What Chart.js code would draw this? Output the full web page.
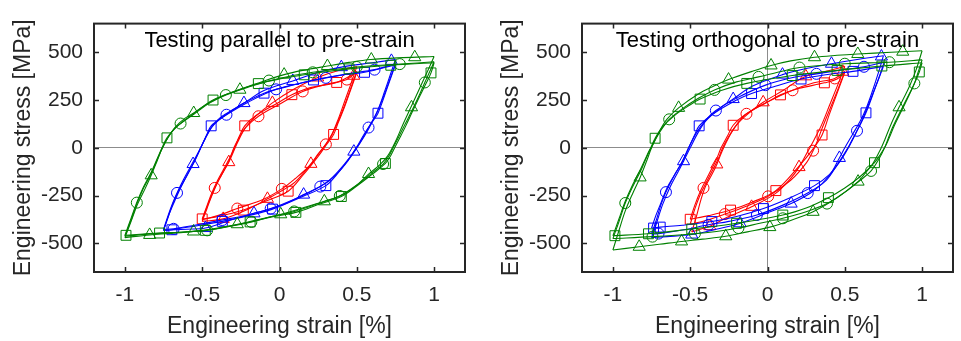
<!DOCTYPE html>
<html><head><meta charset="utf-8">
<script src="https://cdn.jsdelivr.net/npm/chart.js@4.4.1/dist/chart.umd.min.js"></script>
<style>
html,body{margin:0;padding:0;background:#fff;}
#wrap{position:relative;width:961px;height:341px;overflow:hidden;}
.p{position:absolute;top:0;height:341px;}
</style></head>
<body>
<div id="wrap">
<div class="p" style="left:0;width:480px"><canvas id="c1" width="480" height="341"></canvas></div>
<div class="p" style="left:480px;width:481px"><canvas id="c2" width="481" height="341"></canvas></div>
</div>
<script>
// ---------- tick labels ----------
const strainTicks = [-1, -0.5, 0, 0.5, 1];
const stressTicks = [-500, -250, 0, 250, 500];
const titles = ['Testing parallel to pre-strain', 'Testing orthogonal to pre-strain'];
const xTitle = 'Engineering strain [%]';
const yTitle = 'Engineering stress [MPa]';

// ---------- LEFT: parallel (strain %, stress MPa) ----------
// green +-1 %
const par_g_tri_up = [[-1,-470],[-0.96,-385],[-0.92,-298],[-0.87,-215],[-0.83,-144],[-0.79,-65],[-0.76,-5],[-0.72,55],[-0.67,112],[-0.61,155],[-0.55,185],[-0.45,238],[-0.35,278],[-0.26,305],[-0.1,350],[0.03,383],[0.15,405],[0.31,428],[0.45,447],[0.59,462],[0.8,472],[1,478]];
const par_g_tri_dn = [[-1,-470],[-0.84,-456],[-0.7,-448],[-0.56,-438],[-0.4,-420],[-0.27,-400],[-0.15,-378],[0.01,-348],[0.15,-315],[0.29,-280],[0.4,-248],[0.5,-195],[0.58,-135],[0.65,-88],[0.7,-42],[0.73,0],[0.76,50],[0.8,125],[0.85,212],[0.88,265],[0.92,335],[0.96,405],[1,478]];
const par_g_tri_mk = [[-0.83,-144],[-0.555,182],[-0.256,304],[0.03,383],[0.31,428],[0.594,462],[0.875,474],[0.854,212],[0.576,-137],[0.29,-280],[0.008,-348],[-0.273,-400],[-0.556,-438],[-0.84,-456]];
const par_g_cir_up = [[-1,-462],[-0.96,-378],[-0.92,-287],[-0.88,-212],[-0.83,-135],[-0.79,-60],[-0.757,0],[-0.72,55],[-0.68,100],[-0.64,127],[-0.55,178],[-0.45,235],[-0.35,275],[-0.2,318],[-0.07,350],[0.05,372],[0.215,395],[0.35,410],[0.5,423],[0.78,438],[1,450]];
const par_g_cir_dn = [[-1,-462],[-0.85,-452],[-0.7,-444],[-0.47,-432],[-0.35,-416],[-0.18,-388],[-0.05,-360],[0.095,-333],[0.25,-292],[0.39,-252],[0.5,-195],[0.6,-130],[0.67,-85],[0.71,-40],[0.735,0],[0.77,55],[0.81,120],[0.86,200],[0.9,268],[0.94,342],[0.97,395],[1,450]];
const par_g_cir_mk = [[-0.923,-287],[-0.64,127],[-0.347,276],[-0.068,352],[0.215,395],[0.5,423],[0.778,438],[0.94,342],[0.67,-85],[0.39,-252],[0.095,-333],[-0.182,-388],[-0.468,-432]];
const par_g_sq_up = [[-1,-458],[-0.96,-368],[-0.92,-280],[-0.88,-205],[-0.83,-128],[-0.79,-55],[-0.76,0],[-0.73,50],[-0.68,98],[-0.62,140],[-0.55,183],[-0.43,250],[-0.3,292],[-0.14,335],[0,360],[0.16,382],[0.3,398],[0.45,413],[0.72,432],[1,445]];
const par_g_sq_dn = [[-1,-458],[-0.78,-446],[-0.65,-442],[-0.48,-432],[-0.35,-414],[-0.19,-388],[-0.05,-362],[0.105,-338],[0.25,-297],[0.4,-255],[0.5,-200],[0.6,-138],[0.685,-82],[0.72,-40],[0.745,0],[0.78,55],[0.82,120],[0.86,190],[0.9,258],[0.95,340],[0.98,392],[1,445]];
const par_g_sq_mk = [[-0.993,-458],[-0.728,52],[-0.43,250],[-0.137,336],[0.16,382],[0.45,413],[0.72,432],[0.98,392],[0.685,-82],[0.4,-255],[0.106,-338],[-0.19,-388],[-0.48,-432],[-0.776,-446]];
// blue +-0.75 %
const par_b_tri_up = [[-0.75,-432],[-0.72,-362],[-0.69,-292],[-0.65,-220],[-0.6,-148],[-0.56,-85],[-0.52,-20],[-0.48,50],[-0.44,108],[-0.38,160],[-0.3,200],[-0.23,234],[-0.1,300],[0.086,350],[0.25,395],[0.4,422],[0.6,445],[0.75,462]];
const par_b_tri_dn = [[-0.75,-432],[-0.6,-426],[-0.48,-420],[-0.33,-382],[-0.165,-343],[0,-305],[0.156,-245],[0.3,-185],[0.36,-140],[0.42,-85],[0.48,-24],[0.55,62],[0.6,135],[0.64,205],[0.68,295],[0.72,390],[0.75,462]];
const par_b_tri_mk = [[-0.559,-85],[-0.23,234],[0.086,350],[0.4,422],[0.724,455],[0.481,-20],[0.156,-245],[-0.165,-343],[-0.479,-420]];
const par_b_cir_up = [[-0.75,-427],[-0.72,-352],[-0.69,-287],[-0.663,-236],[-0.62,-165],[-0.58,-105],[-0.52,-15],[-0.48,48],[-0.44,105],[-0.4,140],[-0.343,173],[-0.2,240],[-0.022,306],[0.15,340],[0.3,366],[0.45,388],[0.615,409],[0.75,440]];
const par_b_cir_dn = [[-0.75,-427],[-0.685,-424],[-0.55,-405],[-0.37,-378],[-0.2,-350],[-0.057,-318],[0.1,-268],[0.264,-203],[0.36,-145],[0.43,-82],[0.49,-12],[0.53,40],[0.576,106],[0.63,185],[0.67,262],[0.71,350],[0.75,440]];
const par_b_cir_mk = [[-0.663,-236],[-0.343,173],[-0.022,306],[0.3,366],[0.615,409],[0.576,106],[0.264,-203],[-0.057,-318],[-0.37,-378],[-0.685,-424]];
const par_b_sq_up = [[-0.75,-432],[-0.72,-360],[-0.68,-282],[-0.64,-210],[-0.59,-130],[-0.55,-72],[-0.51,0],[-0.47,70],[-0.442,115],[-0.36,165],[-0.25,225],[-0.1,286],[0.05,320],[0.22,355],[0.4,380],[0.55,395],[0.75,435]];
const par_b_sq_dn = [[-0.75,-432],[-0.696,-429],[-0.55,-410],[-0.37,-385],[-0.2,-355],[-0.045,-321],[0.15,-255],[0.3,-198],[0.37,-140],[0.44,-68],[0.5,5],[0.55,75],[0.6,135],[0.637,181],[0.7,320],[0.75,435]];
const par_b_sq_mk = [[-0.442,115],[-0.1,286],[0.22,355],[0.55,395],[0.637,181],[0.3,-198],[-0.045,-321],[-0.37,-385],[-0.696,-429]];
// red +-0.5 %
const par_r_tri_up = [[-0.5,-385],[-0.47,-320],[-0.44,-255],[-0.4,-180],[-0.36,-120],[-0.328,-75],[-0.3,-25],[-0.27,30],[-0.22,105],[-0.15,168],[-0.046,235],[0.1,310],[0.247,368],[0.4,408],[0.5,425]];
const par_r_tri_dn = [[-0.5,-385],[-0.364,-372],[-0.2,-320],[-0.078,-267],[0,-232],[0.1,-180],[0.203,-84],[0.25,-32],[0.3,20],[0.34,72],[0.38,150],[0.42,240],[0.46,330],[0.5,425]];
const par_r_tri_mk = [[-0.328,-75],[-0.046,235],[0.247,368],[0.48,377],[0.203,-84],[-0.078,-267],[-0.364,-372]];
const par_r_cir_up = [[-0.5,-377],[-0.47,-312],[-0.44,-250],[-0.419,-210],[-0.38,-150],[-0.33,-75],[-0.295,0],[-0.26,55],[-0.22,105],[-0.136,165],[0,228],[0.15,295],[0.3,332],[0.436,357],[0.5,400]];
const par_r_cir_dn = [[-0.5,-377],[-0.4,-355],[-0.273,-318],[-0.1,-268],[0.015,-215],[0.1,-162],[0.2,-90],[0.25,-35],[0.3,18],[0.34,70],[0.38,140],[0.42,220],[0.46,310],[0.5,400]];
const par_r_cir_mk = [[-0.419,-210],[-0.136,165],[0.15,295],[0.436,357],[0.3,18],[0.015,-215],[-0.273,-318]];
const par_r_sq_up = [[-0.5,-372],[-0.47,-305],[-0.44,-240],[-0.4,-170],[-0.36,-110],[-0.32,-50],[-0.29,0],[-0.26,60],[-0.225,115],[-0.15,170],[0,240],[0.08,278],[0.2,315],[0.37,342],[0.5,395]];
const par_r_sq_dn = [[-0.5,-372],[-0.4,-360],[-0.234,-326],[-0.1,-282],[0.056,-227],[0.15,-145],[0.25,-45],[0.3,12],[0.35,70],[0.38,132],[0.42,212],[0.46,302],[0.5,395]];
const par_r_sq_mk = [[-0.5,-372],[-0.225,115],[0.08,278],[0.37,342],[0.35,70],[0.056,-227],[-0.234,-326]];

// ---------- RIGHT: orthogonal ----------
// green
const ort_g_tri_up = [[-1,-535],[-0.96,-430],[-0.92,-330],[-0.87,-235],[-0.824,-155],[-0.78,-65],[-0.75,0],[-0.7,85],[-0.65,150],[-0.575,209],[-0.45,280],[-0.35,322],[-0.252,357],[-0.1,400],[0.023,431],[0.15,455],[0.304,474],[0.45,484],[0.584,491],[0.8,500],[1,508]];
const ort_g_tri_dn = [[-1,-535],[-0.83,-518],[-0.7,-505],[-0.556,-490],[-0.42,-478],[-0.27,-463],[-0.13,-440],[0.015,-415],[0.15,-380],[0.295,-335],[0.45,-262],[0.586,-177],[0.63,-135],[0.68,-85],[0.73,-10],[0.76,45],[0.8,125],[0.851,212],[0.88,258],[0.92,325],[0.96,405],[1,508]];
const ort_g_tri_mk = [[-0.824,-155],[-0.575,209],[-0.252,357],[0.023,431],[0.304,474],[0.584,491],[0.875,503],[0.851,212],[0.586,-177],[0.295,-335],[0.015,-415],[-0.27,-463],[-0.556,-490],[-0.83,-518]];
const ort_g_cir_up = [[-1,-475],[-0.96,-385],[-0.92,-289],[-0.87,-200],[-0.82,-120],[-0.78,-45],[-0.75,5],[-0.71,65],[-0.67,115],[-0.636,149],[-0.55,205],[-0.45,258],[-0.343,303],[-0.2,345],[-0.058,371],[0.08,398],[0.207,420],[0.5,440],[0.789,448],[1,460]];
const ort_g_cir_dn = [[-1,-475],[-0.744,-465],[-0.47,-450],[-0.33,-438],[-0.188,-420],[-0.05,-395],[0.099,-369],[0.25,-335],[0.385,-292],[0.5,-232],[0.6,-170],[0.67,-121],[0.72,-60],[0.76,5],[0.8,90],[0.85,175],[0.9,255],[0.95,337],[0.97,385],[1,460]];
const ort_g_cir_mk = [[-0.92,-289],[-0.636,149],[-0.343,303],[-0.058,371],[0.207,420],[0.5,440],[0.789,448],[0.95,337],[0.67,-121],[0.385,-292],[0.099,-369],[-0.188,-420],[-0.47,-450],[-0.744,-465]];
const ort_g_sq_up = [[-1,-460],[-0.96,-370],[-0.92,-280],[-0.87,-190],[-0.82,-110],[-0.78,-40],[-0.75,10],[-0.727,50],[-0.68,108],[-0.6,170],[-0.5,225],[-0.436,255],[-0.3,300],[-0.134,337],[0.16,378],[0.45,405],[0.74,428],[1,445]];
const ort_g_sq_dn = [[-1,-460],[-0.77,-450],[-0.49,-425],[-0.35,-412],[-0.2,-395],[-0.05,-375],[0.099,-352],[0.25,-315],[0.394,-261],[0.5,-210],[0.6,-150],[0.692,-78],[0.73,-35],[0.77,20],[0.82,115],[0.88,215],[0.93,300],[0.982,397],[1,445]];
const ort_g_sq_mk = [[-0.987,-460],[-0.727,50],[-0.436,255],[-0.134,337],[0.16,378],[0.45,405],[0.74,428],[0.982,397],[0.692,-78],[0.394,-261],[0.099,-352],[-0.2,-395],[-0.49,-425],[-0.77,-450]];
// blue
const ort_b_tri_up = [[-0.75,-470],[-0.72,-400],[-0.68,-300],[-0.63,-205],[-0.58,-128],[-0.543,-70],[-0.5,0],[-0.45,78],[-0.4,140],[-0.3,212],[-0.222,255],[-0.1,322],[0.097,383],[0.25,415],[0.414,440],[0.6,465],[0.75,482]];
const ort_b_tri_dn = [[-0.75,-470],[-0.65,-465],[-0.49,-454],[-0.35,-430],[-0.177,-395],[0,-340],[0.153,-292],[0.3,-225],[0.4,-145],[0.465,-53],[0.5,0],[0.55,70],[0.6,140],[0.64,210],[0.68,300],[0.72,400],[0.75,482]];
const ort_b_tri_mk = [[-0.543,-70],[-0.222,255],[0.097,383],[0.414,440],[0.737,478],[0.465,-53],[0.153,-292],[-0.177,-395],[-0.49,-454]];
const ort_b_cir_up = [[-0.75,-452],[-0.72,-380],[-0.69,-300],[-0.657,-232],[-0.6,-140],[-0.55,-70],[-0.51,0],[-0.46,78],[-0.4,145],[-0.334,195],[-0.2,260],[-0.013,328],[0.15,365],[0.317,387],[0.5,410],[0.624,424],[0.755,448]];
const ort_b_cir_dn = [[-0.75,-452],[-0.705,-449],[-0.55,-430],[-0.381,-403],[-0.25,-385],[-0.069,-352],[0.1,-300],[0.26,-237],[0.38,-170],[0.45,-90],[0.52,0],[0.54,30],[0.579,89],[0.62,160],[0.68,280],[0.72,365],[0.755,448]];
const ort_b_cir_mk = [[-0.657,-232],[-0.334,195],[-0.013,328],[0.317,387],[0.624,424],[0.579,89],[0.26,-237],[-0.069,-352],[-0.381,-403],[-0.705,-449]];
const ort_b_sq_up = [[-0.75,-420],[-0.72,-350],[-0.69,-290],[-0.65,-210],[-0.6,-140],[-0.55,-70],[-0.51,0],[-0.47,70],[-0.442,115],[-0.35,178],[-0.2,250],[-0.103,284],[0.05,322],[0.217,360],[0.4,385],[0.553,400],[0.75,426]];
const ort_b_sq_dn = [[-0.75,-420],[-0.694,-415],[-0.55,-405],[-0.36,-386],[-0.2,-360],[-0.026,-318],[0.15,-260],[0.304,-198],[0.4,-140],[0.47,-70],[0.53,10],[0.58,90],[0.637,183],[0.7,320],[0.75,426]];
const ort_b_sq_mk = [[-0.737,-420],[-0.442,115],[-0.103,284],[0.217,360],[0.553,400],[0.637,183],[0.304,-198],[-0.026,-318],[-0.36,-386],[-0.694,-415]];
// red
const ort_r_tri_up = [[-0.49,-440],[-0.46,-360],[-0.43,-270],[-0.4,-200],[-0.36,-140],[-0.328,-87],[-0.3,-30],[-0.26,40],[-0.2,120],[-0.1,195],[-0.028,238],[0.1,300],[0.248,374],[0.4,405],[0.5,426]];
const ort_r_tri_dn = [[-0.49,-440],[-0.45,-430],[-0.373,-410],[-0.25,-360],[-0.103,-309],[0.05,-240],[0.15,-160],[0.204,-101],[0.26,-20],[0.3,40],[0.35,120],[0.4,220],[0.45,320],[0.5,426]];
const ort_r_tri_mk = [[-0.328,-87],[-0.028,238],[0.248,374],[0.487,398],[0.204,-101],[-0.103,-309],[-0.373,-410]];
const ort_r_cir_up = [[-0.5,-400],[-0.47,-320],[-0.44,-255],[-0.414,-210],[-0.37,-140],[-0.32,-60],[-0.29,0],[-0.25,60],[-0.2,120],[-0.136,178],[0,240],[0.162,301],[0.3,340],[0.435,363],[0.5,400]];
const ort_r_cir_dn = [[-0.5,-400],[-0.4,-380],[-0.276,-347],[-0.15,-310],[0.004,-254],[0.15,-170],[0.25,-80],[0.295,-15],[0.32,30],[0.35,95],[0.4,195],[0.45,295],[0.5,400]];
const ort_r_cir_mk = [[-0.414,-210],[-0.136,178],[0.162,301],[0.435,363],[0.295,-15],[0.004,-254],[-0.276,-347]];
const ort_r_sq_up = [[-0.5,-374],[-0.47,-300],[-0.43,-220],[-0.38,-140],[-0.33,-60],[-0.3,0],[-0.26,60],[-0.222,118],[-0.15,170],[0,240],[0.084,277],[0.2,310],[0.368,340],[0.45,360],[0.5,395]];
const ort_r_sq_dn = [[-0.5,-374],[-0.38,-355],[-0.239,-326],[-0.1,-285],[0.054,-224],[0.2,-100],[0.3,0],[0.353,67],[0.4,175],[0.45,285],[0.5,395]];
const ort_r_sq_mk = [[-0.5,-374],[-0.222,118],[0.084,277],[0.368,340],[0.353,67],[0.054,-224],[-0.239,-326]];

// ---------- styling & building ----------
const GREEN = '#008000', BLUE = '#0000ff', RED = '#ff0000';
const AXIS = '#262626';
const FONT = '"Liberation Sans", Arial, Helvetica, sans-serif';

function pts(a){ return a.map(p => ({x: p[0], y: p[1]})); }
function lineDs(arr, color){
  return {data: pts(arr), borderColor: color, backgroundColor: color, borderWidth: 1.1,
          pointRadius: 0, showLine: true, fill: false, tension: 0.35};
}
const markerSize = {triangle: 7, circle: 5.5, rect: 7};
function mkDs(arr, color, style){
  return {data: pts(arr), showLine: false, borderColor: color, backgroundColor: 'rgba(0,0,0,0)',
          pointStyle: style, pointRadius: markerSize[style], pointBorderWidth: 1,
          pointBorderColor: color, pointBackgroundColor: 'rgba(0,0,0,0)'};
}
function loopSets(up, dn, mk, color, style){
  return [lineDs(up, color), lineDs(dn, color), mkDs(mk, color, style)];
}

const parSets = [].concat(
  loopSets(par_g_tri_up, par_g_tri_dn, par_g_tri_mk, GREEN, 'triangle'),
  loopSets(par_g_cir_up, par_g_cir_dn, par_g_cir_mk, GREEN, 'circle'),
  loopSets(par_g_sq_up,  par_g_sq_dn,  par_g_sq_mk,  GREEN, 'rect'),
  loopSets(par_b_tri_up, par_b_tri_dn, par_b_tri_mk, BLUE, 'triangle'),
  loopSets(par_b_cir_up, par_b_cir_dn, par_b_cir_mk, BLUE, 'circle'),
  loopSets(par_b_sq_up,  par_b_sq_dn,  par_b_sq_mk,  BLUE, 'rect'),
  loopSets(par_r_tri_up, par_r_tri_dn, par_r_tri_mk, RED, 'triangle'),
  loopSets(par_r_cir_up, par_r_cir_dn, par_r_cir_mk, RED, 'circle'),
  loopSets(par_r_sq_up,  par_r_sq_dn,  par_r_sq_mk,  RED, 'rect')
);
const ortSets = [].concat(
  loopSets(ort_g_tri_up, ort_g_tri_dn, ort_g_tri_mk, GREEN, 'triangle'),
  loopSets(ort_g_cir_up, ort_g_cir_dn, ort_g_cir_mk, GREEN, 'circle'),
  loopSets(ort_g_sq_up,  ort_g_sq_dn,  ort_g_sq_mk,  GREEN, 'rect'),
  loopSets(ort_b_tri_up, ort_b_tri_dn, ort_b_tri_mk, BLUE, 'triangle'),
  loopSets(ort_b_cir_up, ort_b_cir_dn, ort_b_cir_mk, BLUE, 'circle'),
  loopSets(ort_b_sq_up,  ort_b_sq_dn,  ort_b_sq_mk,  BLUE, 'rect'),
  loopSets(ort_r_tri_up, ort_r_tri_dn, ort_r_tri_mk, RED, 'triangle'),
  loopSets(ort_r_cir_up, ort_r_cir_dn, ort_r_cir_mk, RED, 'circle'),
  loopSets(ort_r_sq_up,  ort_r_sq_dn,  ort_r_sq_mk,  RED, 'rect')
);

const framePlugin = {
  id: 'frame',
  afterDatasetsDraw(chart, args, opts){
    const {ctx, chartArea: a, scales: {x, y}} = chart;
    ctx.save();
    ctx.strokeStyle = AXIS;
    ctx.lineWidth = 1.5;
    ctx.beginPath();
    const tl = 5;
    strainTicks.forEach(v => {
      const px = Math.round(x.getPixelForValue(v)) + 0.5;
      ctx.moveTo(px, a.bottom); ctx.lineTo(px, a.bottom - tl);
      ctx.moveTo(px, a.top); ctx.lineTo(px, a.top + tl);
    });
    stressTicks.forEach(v => {
      const py = Math.round(y.getPixelForValue(v)) + 0.5;
      ctx.moveTo(a.left, py); ctx.lineTo(a.left + tl, py);
      ctx.moveTo(a.right, py); ctx.lineTo(a.right - tl, py);
    });
    ctx.stroke();
    ctx.lineWidth = 2;
    ctx.strokeRect(a.left, a.top, a.right - a.left, a.bottom - a.top);
    ctx.fillStyle = '#000';
    ctx.font = '22px ' + FONT;
    ctx.textAlign = 'center';
    ctx.textBaseline = 'middle';
    ctx.fillText(opts.text, (a.left + a.right) / 2, a.top + 17);
    ctx.restore();
  }
};

function makeChart(id, sets, title, yW, rightPad, yTitlePad){
  return new Chart(document.getElementById(id), {
    type: 'line',
    data: {datasets: sets},
    plugins: [framePlugin],
    options: {
      responsive: false, animation: false, devicePixelRatio: 1, events: [],
      layout: {padding: {top: 19, right: rightPad, bottom: 0, left: 0}},
      plugins: {legend: {display: false}, tooltip: {enabled: false}, frame: {text: title}},
      scales: {
        x: {
          type: 'linear', min: -1.2, max: 1.2,
          afterBuildTicks: s => { s.ticks = strainTicks.map(v => ({value: v})); },
          afterFit: s => { s.height = 69; },
          ticks: {callback: v => String(v), color: AXIS, font: {family: FONT, size: 21}, padding: 11, maxRotation: 0, autoSkip: false},
          grid: {drawTicks: false, lineWidth: 1, color: c => (c.tick && c.tick.value === 0) ? '#8c8c8c' : 'rgba(0,0,0,0)'},
          border: {display: false},
          title: {display: true, text: xTitle, color: AXIS, font: {family: FONT, size: 23}, padding: {top: 0, bottom: 1}}
        },
        y: {
          type: 'linear', min: -650, max: 650,
          afterBuildTicks: s => { s.ticks = stressTicks.map(v => ({value: v})); },
          afterFit: s => { s.width = yW; },
          ticks: {callback: v => String(v), color: AXIS, font: {family: FONT, size: 21}, padding: 11, autoSkip: false},
          grid: {drawTicks: false, lineWidth: 1, color: c => (c.tick && c.tick.value === 0) ? '#8c8c8c' : 'rgba(0,0,0,0)'},
          border: {display: false},
          title: {display: true, text: yTitle, color: AXIS, font: {family: FONT, size: 23}, padding: {top: yTitlePad, bottom: 0}}
        }
      }
    }
  });
}

makeChart('c1', parSets, titles[0], 94, 15, 9.5);
makeChart('c2', ortSets, titles[1], 102, 6, 18);
</script>
</body></html>
